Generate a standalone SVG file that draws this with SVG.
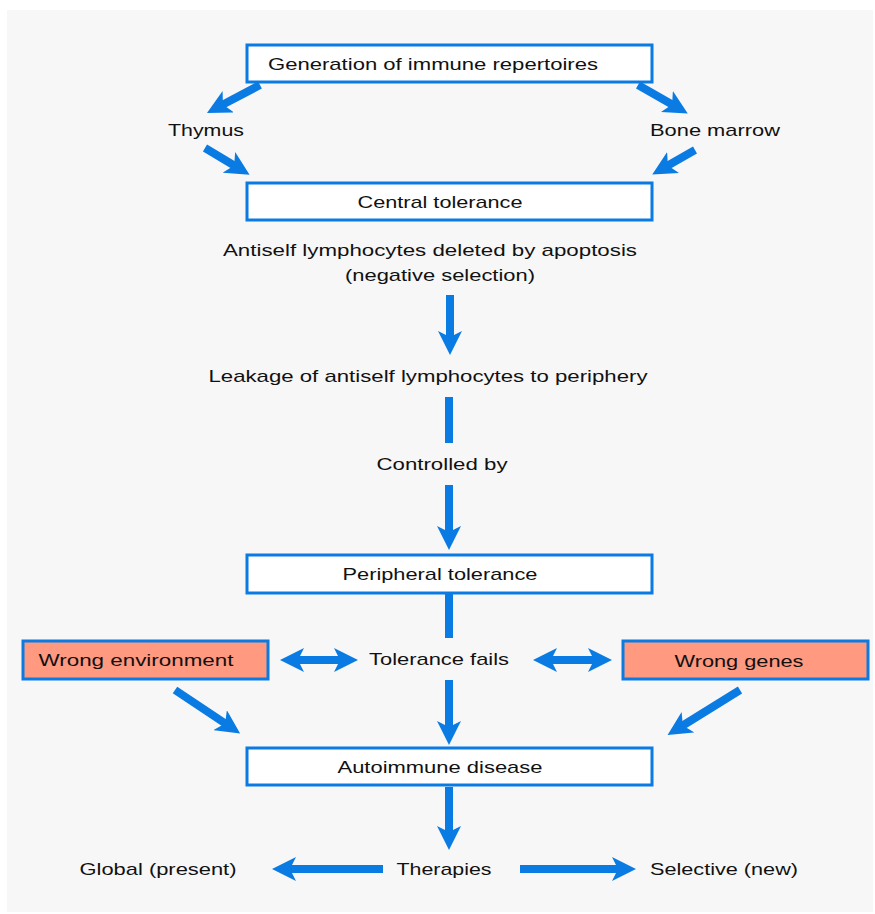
<svg xmlns="http://www.w3.org/2000/svg" width="875" height="914" viewBox="0 0 875 914">
<defs>
<marker id="ah" viewBox="0 0 24 24" markerWidth="24" markerHeight="24" refX="7" refY="12" orient="auto-start-reverse" markerUnits="userSpaceOnUse">
<path d="M0,0 L24,12 L0,24 L6,12 Z" fill="#0a7be3"/>
</marker>
</defs>
<style>
.bx{fill:#ffffff;stroke:#0a7be3;stroke-width:3}
.rd{fill:#ff9980;stroke:#0a7be3;stroke-width:3}
.t{font-family:"Liberation Sans",Arial,sans-serif;font-size:17px;fill:#111;text-anchor:middle}
.a{stroke:#0a7be3;stroke-width:8;fill:none;marker-end:url(#ah)}
.d{stroke:#0a7be3;stroke-width:8;fill:none;marker-start:url(#ah);marker-end:url(#ah)}
.l{stroke:#0a7be3;stroke-width:8;fill:none}
</style>
<rect x="0" y="0" width="875" height="914" fill="#ffffff"/>
<rect x="7" y="10" width="866" height="902" fill="#f7f7f7"/>
<g id="connectors">
<line class="a" x1="260" y1="85" x2="222" y2="105"/>
<line class="a" x1="638" y1="85" x2="673" y2="105"/>
<line class="a" x1="205" y1="148" x2="235" y2="166"/>
<line class="a" x1="695" y1="150" x2="667" y2="166"/>
<line class="a" x1="450" y1="295" x2="450" y2="338"/>
<line class="l" x1="449" y1="397" x2="449" y2="443"/>
<line class="a" x1="449" y1="485" x2="449" y2="533"/>
<line class="l" x1="449" y1="593" x2="449" y2="638"/>
<line class="a" x1="449" y1="680" x2="449" y2="728"/>
<line class="d" x1="297" y1="660" x2="341" y2="660"/>
<line class="d" x1="550" y1="660" x2="595" y2="660"/>
<line class="a" x1="175" y1="690" x2="226" y2="724"/>
<line class="a" x1="740" y1="690" x2="682" y2="726"/>
<line class="a" x1="449" y1="787" x2="449" y2="833"/>
<line class="a" x1="383" y1="869" x2="289" y2="869"/>
<line class="a" x1="520" y1="869" x2="619" y2="869"/>
</g>
<g id="gen"><rect class="bx" x="247" y="45" width="405" height="37"/><text class="t" x="433" y="70" textLength="330" lengthAdjust="spacingAndGlyphs">Generation of immune repertoires</text></g>
<g id="thymus"><text class="t" x="206" y="136" textLength="76" lengthAdjust="spacingAndGlyphs">Thymus</text></g>
<g id="bone"><text class="t" x="715" y="136" textLength="130" lengthAdjust="spacingAndGlyphs">Bone marrow</text></g>
<g id="central"><rect class="bx" x="247" y="183" width="405" height="37"/><text class="t" x="440" y="208" textLength="165" lengthAdjust="spacingAndGlyphs">Central tolerance</text></g>
<g id="antiself"><text class="t" x="430" y="256" textLength="414" lengthAdjust="spacingAndGlyphs">Antiself lymphocytes deleted by apoptosis</text><text class="t" x="440" y="281" textLength="190" lengthAdjust="spacingAndGlyphs">(negative selection)</text></g>
<g id="leakage"><text class="t" x="428" y="382" textLength="439" lengthAdjust="spacingAndGlyphs">Leakage of antiself lymphocytes to periphery</text></g>
<g id="controlled"><text class="t" x="442" y="470" textLength="131" lengthAdjust="spacingAndGlyphs">Controlled by</text></g>
<g id="peripheral"><rect class="bx" x="247" y="555" width="405" height="38"/><text class="t" x="440" y="580" textLength="195" lengthAdjust="spacingAndGlyphs">Peripheral tolerance</text></g>
<g id="env"><rect class="rd" x="23" y="641" width="245" height="38"/><text class="t" x="136" y="666" textLength="195" lengthAdjust="spacingAndGlyphs">Wrong environment</text></g>
<g id="fails"><text class="t" x="439" y="665" textLength="140" lengthAdjust="spacingAndGlyphs">Tolerance fails</text></g>
<g id="genes"><rect class="rd" x="623" y="641" width="245" height="38"/><text class="t" x="739" y="667" textLength="129" lengthAdjust="spacingAndGlyphs">Wrong genes</text></g>
<g id="auto"><rect class="bx" x="247" y="748" width="405" height="37"/><text class="t" x="440" y="773" textLength="205" lengthAdjust="spacingAndGlyphs">Autoimmune disease</text></g>
<g id="global"><text class="t" x="158" y="875" textLength="157" lengthAdjust="spacingAndGlyphs">Global (present)</text></g>
<g id="therapies"><text class="t" x="444" y="875" textLength="95" lengthAdjust="spacingAndGlyphs">Therapies</text></g>
<g id="selective"><text class="t" x="724" y="875" textLength="148" lengthAdjust="spacingAndGlyphs">Selective (new)</text></g>
</svg>
